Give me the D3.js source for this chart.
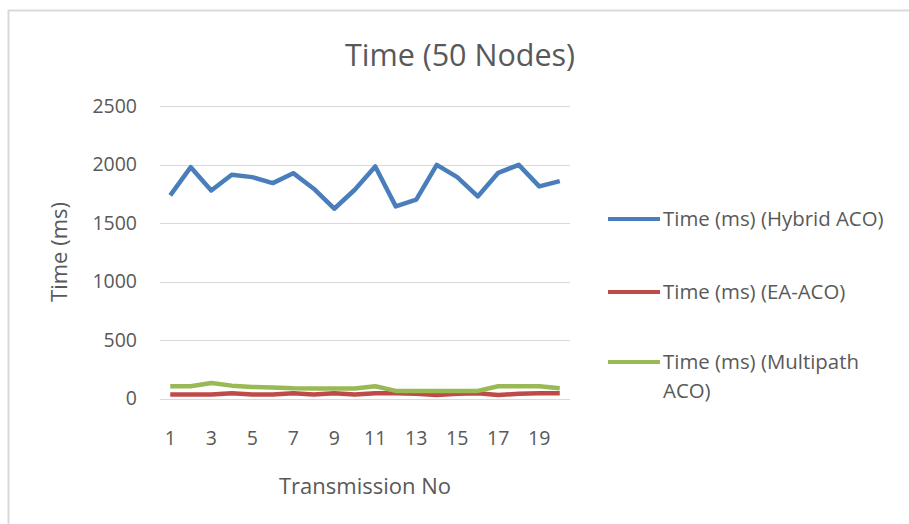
<!DOCTYPE html>
<html><head><meta charset="utf-8">
<script src="https://cdn.jsdelivr.net/npm/d3@7"></script>
<style>body{margin:0;background:#fff}svg{display:block}text{font-family:"Open Sans",Lato,sans-serif}</style>
</head><body><svg id="c" width="909" height="524"></svg>
<script>
const categories = d3.range(1, 21);
const hybrid = [1736,1977,1778,1912,1892,1841,1926,1793,1622,1784,1983,1642,1699,1997,1892,1727,1929,1997,1813,1858];
const eaaco = [35,35,35,45,35,35,45,35,45,35,45,45,40,30,40,45,30,40,45,45];
const multipath = [105,105,133,110,99,95,88,85,85,85,105,65,65,65,65,65,105,105,105,88];
const yTicks = [0,500,1000,1500,2000,2500];
const xTickLabels = [1,3,5,7,9,11,13,15,17,19];
const seriesNames = ["Time (ms) (Hybrid ACO)","Time (ms) (EA-ACO)","Time (ms) (Multipath ACO)"];
const colors = ["#4a7ebb","#be4b48","#98b954"];

const svg = d3.select("#c");
svg.append("line").attr("x1",8).attr("x2",909).attr("y1",10.5).attr("y2",10.5).attr("stroke","#d9d9d9").attr("stroke-width",2);
svg.append("line").attr("x1",8.5).attr("x2",8.5).attr("y1",10).attr("y2",524).attr("stroke","#d9d9d9").attr("stroke-width",2);

const x = d3.scalePoint().domain(categories).range([170.25,559.75]);
const y = d3.scaleLinear().domain([0,2500]).range([398.5,106]);
const txt = "#595959";

const g = svg.append("g");
g.selectAll("line.grid").data(yTicks).join("line")
  .attr("x1",160).attr("x2",570).attr("y1",d=>Math.round(y(d))+0.5).attr("y2",d=>Math.round(y(d))+0.5)
  .attr("stroke","#d9d9d9").attr("stroke-width",1);
g.selectAll("text.yt").data(yTicks).join("text")
  .attr("x",137).attr("y",d=>y(d)).attr("dy","0.35em").attr("text-anchor","end")
  .attr("font-size",19.5).attr("fill",txt).text(d=>d);
g.selectAll("text.xt").data(xTickLabels).join("text")
  .attr("x",d=>x(d)).attr("y",438).attr("dy","0.35em").attr("text-anchor","middle")
  .attr("font-size",19.5).attr("fill",txt).text(d=>d);

const line = d3.line().x((d,i)=>x(categories[i])).y(d=>y(d));
[hybrid,eaaco,multipath].forEach((s,i)=>{
  g.append("path").datum(s).attr("d",line).attr("fill","none")
   .attr("stroke",colors[i]).attr("stroke-width",4.5).attr("stroke-linejoin","round");
});

svg.append("text").attr("x",460).attr("y",55).attr("dy","0.35em").attr("text-anchor","middle")
  .attr("font-size",30.5).attr("fill",txt).text("Time (50 Nodes)");
svg.append("text").attr("x",365).attr("y",486).attr("dy","0.35em").attr("text-anchor","middle")
  .attr("font-size",22).attr("fill",txt).text("Transmission No");
svg.append("text").attr("transform","translate(59,252) rotate(-90)").attr("dy","0.35em").attr("text-anchor","middle")
  .attr("font-size",22).attr("fill",txt).text("Time (ms)");

const legY = [219,292,362];
const leg = svg.append("g");
seriesNames.forEach((n,i)=>{
  leg.append("line").attr("x1",608).attr("x2",660).attr("y1",legY[i]).attr("y2",legY[i])
    .attr("stroke",colors[i]).attr("stroke-width",4);
  if(i<2){
    leg.append("text").attr("x",663).attr("y",legY[i]).attr("dy","0.35em").attr("font-size",20.4).attr("fill",txt).text(n);
  } else {
    leg.append("text").attr("x",663).attr("y",legY[i]).attr("dy","0.35em").attr("font-size",20.4).attr("fill",txt).text("Time (ms) (Multipath");
    leg.append("text").attr("x",663).attr("y",legY[i]+29).attr("dy","0.35em").attr("font-size",20.4).attr("fill",txt).text("ACO)");
  }
});
</script></body></html>
